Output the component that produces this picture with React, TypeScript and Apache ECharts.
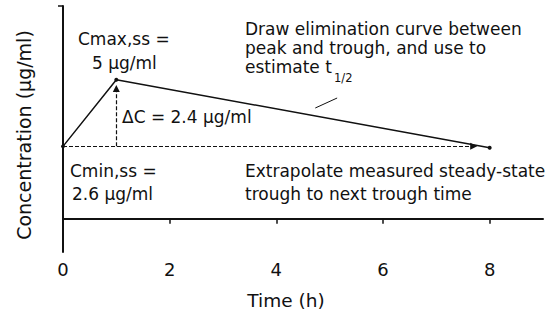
import { useEffect, useRef } from "react";
import * as echarts from "echarts";

// Data
const timeH = [0, 1, 8];
const concentration = [2.6, 5, 2.55];
const xTickValues = [0, 2, 4, 6, 8];
const yMin = -1.2;
const yMax = 7.65;
const xMax = 9;
const extrapolation = [[0, 2.6], [7.7, 2.6]];
const deltaC = [[1, 2.6], [1, 4.68]];
const pointer = [[4.73, 3.98], [5.14, 4.34]];

const FONT = "DejaVu Sans";
const INK = "#111";

function txt(text: string, x: number, baseline: number, size = 17) {
  return {
    type: "text",
    x,
    y: baseline - 0.346 * size,
    silent: true,
    style: {
      text,
      fontFamily: FONT,
      fontSize: size,
      fill: INK,
      align: "left",
      verticalAlign: "middle",
    },
  };
}

export default function App() {
  const ref = useRef<HTMLDivElement>(null);
  useEffect(() => {
    document.body.style.margin = "0";
    if (!ref.current) return;
    const chart = echarts.init(ref.current, null, { renderer: "svg" });
    const dashed = { color: INK, width: 1.2, type: [4, 2] as any };
    chart.setOption({
      animation: false,
      backgroundColor: "#fff",
      grid: { left: 63, right: 12, top: 6, bottom: 74, outerBoundsMode: "none" },
      xAxis: {
        type: "value",
        min: 0,
        max: xMax,
        interval: 2,
        name: "Time (h)",
        nameLocation: "middle",
        nameGap: 39,
        nameTextStyle: { fontFamily: FONT, fontSize: 18.5, color: INK, padding: [0, 34, 0, 0] },
        axisLine: { show: true, lineStyle: { color: INK, width: 2 } },
        axisTick: { show: true, length: 5, customValues: xTickValues, lineStyle: { color: INK, width: 1.5 } },
        axisLabel: { customValues: xTickValues, fontFamily: FONT, fontSize: 18, color: INK, margin: 8 },
        splitLine: { show: false },
      },
      yAxis: {
        type: "value",
        min: yMin,
        max: yMax,
        name: "Concentration (μg/ml)",
        nameLocation: "middle",
        nameGap: 30,
        nameTextStyle: { fontFamily: FONT, fontSize: 19, color: INK, padding: [0, 12, 0, 0] },
        axisLine: { show: true, lineStyle: { color: INK, width: 2 } },
        axisTick: { show: true, length: 5, customValues: [yMax], lineStyle: { color: INK, width: 1.5 } },
        axisLabel: { show: false },
        splitLine: { show: false },
      },
      series: [
        {
          type: "line",
          data: timeH.map((t, i) => [t, concentration[i]]),
          symbol: "circle",
          symbolSize: 4,
          lineStyle: { color: INK, width: 1.5 },
          itemStyle: { color: INK },
          silent: true,
          z: 3,
          markLine: {
            silent: true,
            symbol: ["none", "triangle"],
            symbolSize: 7,
            label: { show: false },
            lineStyle: dashed,
            itemStyle: { color: INK },
            data: [
              [{ coord: extrapolation[0] }, { coord: extrapolation[1] }],
              [{ coord: deltaC[0] }, { coord: deltaC[1] }],
            ],
          },
        },
        {
          type: "line",
          data: [],
          markLine: {
            silent: true,
            symbol: ["none", "none"],
            label: { show: false },
            lineStyle: { color: INK, width: 1, type: "solid" },
            data: [[{ coord: pointer[0] }, { coord: pointer[1] }]],
          },
        },
      ],
      graphic: [
        txt("Cmax,ss =", 78, 45),
        txt("5 μg/ml", 92, 69),
        txt("Draw elimination curve between", 245, 35),
        txt("peak and trough, and use to", 245, 54),
        txt("estimate t", 245, 73),
        txt("1/2", 334, 82, 11.5),
        txt("ΔC = 2.4 μg/ml", 122, 123),
        txt("Cmin,ss =", 70, 177),
        txt("2.6 μg/ml", 72, 200),
        txt("Extrapolate measured steady-state", 245, 177),
        txt("trough to next trough time", 245, 200),
      ],
    });
    return () => chart.dispose();
  }, []);
  return <div ref={ref} style={{ width: 555, height: 326 }} />;
}
